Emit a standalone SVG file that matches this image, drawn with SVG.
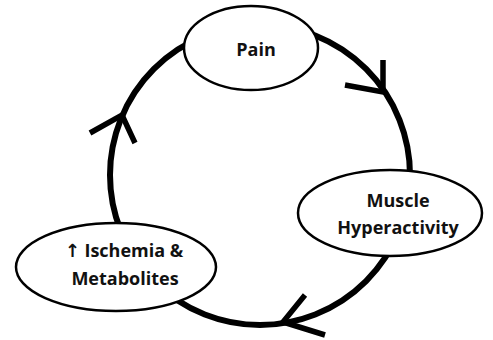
<svg xmlns="http://www.w3.org/2000/svg" width="493" height="340" viewBox="0 0 493 340">
<style>
.cyc{fill:none;stroke:#000;stroke-width:6}
.head{fill:none;stroke:#000;stroke-width:5.5;stroke-linejoin:miter;stroke-linecap:butt}
.node{fill:#fff;stroke:#000;stroke-width:2.5}
.lbl{font-family:"Open Sans","Liberation Sans",sans-serif;font-weight:bold;font-size:18px;fill:#111;text-anchor:middle}
.arr{font-family:"DejaVu Sans",sans-serif;font-weight:bold}
</style>
<rect width="493" height="340" fill="#fff"/>
<g id="connectors">
<circle class="cyc" cx="260" cy="175" r="150"/>
<polyline class="head" points="383,60 383,92 345,85"/>
<polyline class="head" points="90,133 122,115 135,143"/>
<polyline class="head" points="305,295 283,322 325,335"/>
</g>
<g id="pain">
<ellipse class="node" cx="251" cy="48" rx="67" ry="42"/>
<text class="lbl" x="256" y="56">Pain</text>
</g>
<g id="muscle">
<ellipse class="node" cx="390" cy="213" rx="92" ry="43"/>
<text class="lbl" x="398" y="207">Muscle</text>
<text class="lbl" x="398" y="234">Hyperactivity</text>
</g>
<g id="ischemia">
<ellipse class="node" cx="116" cy="267" rx="100" ry="44"/>
<text class="lbl" x="124" y="257"><tspan class="arr">↑</tspan> Ischemia &amp;</text>
<text class="lbl" x="125" y="285">Metabolites</text>
</g>
</svg>
